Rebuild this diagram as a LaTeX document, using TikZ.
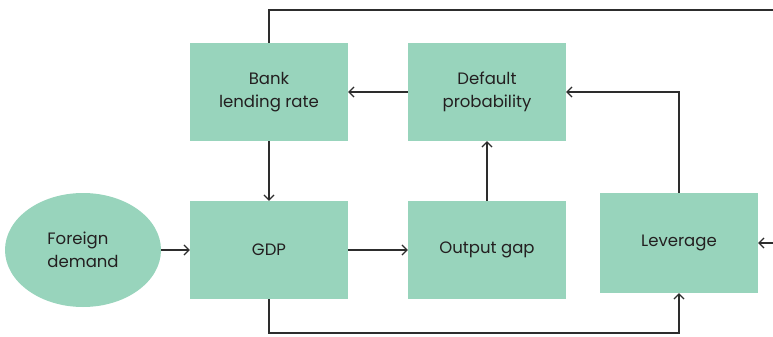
\documentclass[tikz,border=0pt]{standalone}
\usepackage{fontspec}
\setmainfont{Poppins}
\usetikzlibrary{arrows.meta,positioning,shapes.geometric}
\definecolor{mint}{RGB}{152,212,188}
\definecolor{wire}{RGB}{45,45,45}
\definecolor{ink}{RGB}{35,31,32}
\begin{document}
\begin{tikzpicture}[
    x=1pt, y=-1pt,
    font=\fontsize{16.5}{23}\selectfont, text=ink,
    line/.style={draw=wire, line width=1.2pt},
    flow/.style={line, -{Straight Barb[length=5pt,width=10pt]}},
    box/.style={fill=mint, align=center, inner sep=2pt,
                minimum width=158pt, minimum height=98pt},
    oval/.style={ellipse, fill=mint, align=left, inner sep=0pt,
                 minimum width=156pt, minimum height=114pt}
  ]
  \useasboundingbox (0,0) rectangle (773,337);

  \node[box] (bank) at (269,92) {Bank\\lending rate};
  \node[box] (default) at (487,92) {Default\\probability};
  \node[oval] (foreign) at (83,250) {Foreign\\demand};
  \node[box] (gdp) at (269,250) {GDP};
  \node[box] (gap) at (487,250) {Output gap};
  \node[box, minimum height=100pt] (lev) at (679,243) {Leverage};

  \coordinate (topright) at (773,10);
  \coordinate (rightin) at (773,243);
  \coordinate (bottom) at (679,333);

  \draw[flow] (default.west) -- (bank.east);
  \draw[flow] (bank.south) -- (gdp.north);
  \draw[flow] (foreign.east) -- (gdp.west);
  \draw[flow] (gdp.east) -- (gap.west);
  \draw[flow] (gap.north) -- (default.south);
  \draw[flow] (lev.north) |- (default.east);
  \draw[flow] (gdp.south) |- (bottom) -- (lev.south);
  \draw[flow] (rightin) -- (lev.east);
  \draw[line] (bank.north) |- (topright);
\end{tikzpicture}
\end{document}
